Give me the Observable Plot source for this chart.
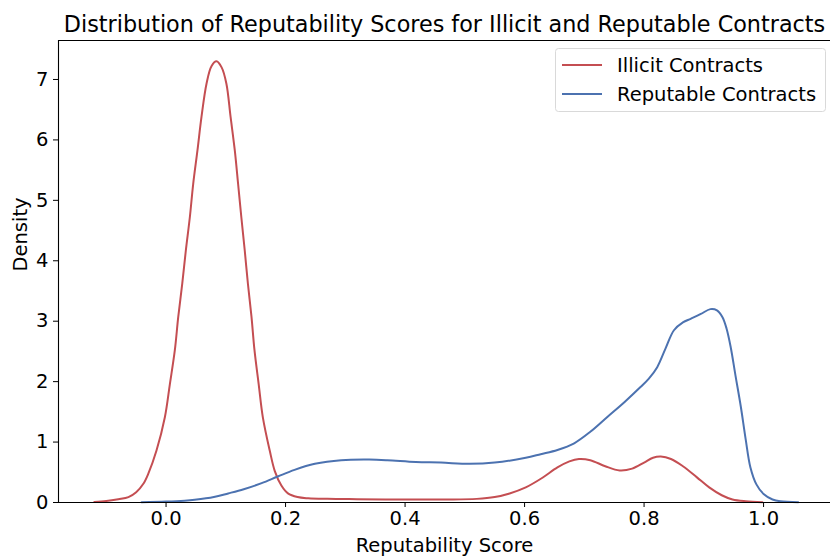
<!DOCTYPE html>
<html>
<head>
<meta charset="utf-8">
<script src="https://cdn.jsdelivr.net/npm/d3@7"></script>
<script src="https://cdn.jsdelivr.net/npm/@observablehq/plot@0.6"></script>
<style>
  html, body { margin: 0; padding: 0; background: #fff; }
  #chart { position: relative; width: 830px; height: 556px; }
</style>
</head>
<body>
<div id="chart"></div>
<script>
// Kernel density estimates of reputability score, sampled along the score axis
const illicitScore = [-0.12, -0.10, -0.08, -0.063, -0.05, -0.038, -0.030, -0.016, -0.002, 0.0064, 0.0147, 0.0204, 0.0271, 0.0331, 0.0398, 0.0454, 0.0526, 0.0593, 0.0677, 0.076, 0.0844, 0.093, 0.101, 0.108, 0.115, 0.1206, 0.126, 0.1317, 0.137, 0.143, 0.148, 0.155, 0.162, 0.1735, 0.182, 0.193, 0.204, 0.22, 0.238, 0.27, 0.32, 0.40, 0.47, 0.52, 0.55, 0.575, 0.602, 0.63, 0.655, 0.675, 0.691, 0.71, 0.735, 0.759, 0.78, 0.80, 0.815, 0.828, 0.845, 0.865, 0.888, 0.909, 0.93, 0.948, 0.97, 0.998];
const illicitDensity = [0.01, 0.025, 0.055, 0.09, 0.17, 0.31, 0.47, 0.86, 1.41, 1.96, 2.52, 3.07, 3.62, 4.17, 4.72, 5.27, 5.83, 6.38, 6.93, 7.22, 7.30, 7.2, 6.93, 6.38, 5.83, 5.27, 4.72, 4.17, 3.62, 3.07, 2.52, 1.96, 1.41, 0.86, 0.52, 0.28, 0.15, 0.09, 0.07, 0.06, 0.055, 0.05, 0.05, 0.06, 0.09, 0.15, 0.25, 0.41, 0.58, 0.68, 0.72, 0.7, 0.6, 0.53, 0.56, 0.66, 0.74, 0.76, 0.72, 0.6, 0.42, 0.25, 0.12, 0.05, 0.02, 0.005];

const reputableScore = [-0.041, 0.0, 0.031, 0.048, 0.08, 0.104, 0.13, 0.16, 0.187, 0.215, 0.249, 0.293, 0.34, 0.37, 0.418, 0.46, 0.508, 0.55, 0.602, 0.627, 0.655, 0.683, 0.71, 0.739, 0.767, 0.794, 0.808, 0.822, 0.836, 0.85, 0.865, 0.878, 0.895, 0.911, 0.922, 0.931, 0.938, 0.945, 0.953, 0.962, 0.97, 0.978, 0.988, 1.0, 1.015, 1.028, 1.058];
const reputableDensity = [0.005, 0.015, 0.03, 0.045, 0.09, 0.15, 0.22, 0.32, 0.43, 0.54, 0.64, 0.70, 0.71, 0.7, 0.67, 0.66, 0.64, 0.66, 0.74, 0.8, 0.87, 0.98, 1.17, 1.42, 1.66, 1.91, 2.05, 2.24, 2.55, 2.85, 2.98, 3.04, 3.12, 3.2, 3.18, 3.07, 2.88, 2.57, 2.1, 1.58, 1.05, 0.58, 0.3, 0.14, 0.05, 0.02, 0.005];

const seriesNames = ["Illicit Contracts", "Reputable Contracts"];
const seriesColors = ["#c44e52", "#4c72b0"];

const xTicks = [0.0, 0.2, 0.4, 0.6, 0.8, 1.0];
const yTicks = [0, 1, 2, 3, 4, 5, 6, 7];

const titleText = "Distribution of Reputability Scores for Illicit and Reputable Contracts";
const xLabel = "Reputability Score";
const yLabel = "Density";

const rows = [
  ...illicitScore.map((s, i) => ({series: seriesNames[0], score: s, density: illicitDensity[i]})),
  ...reputableScore.map((s, i) => ({series: seriesNames[1], score: s, density: reputableDensity[i]}))
];

const xDomain = [-0.18, 1.112];
const yDomain = [0, 7.645];
const fs = 19.5;

const chart = Plot.plot({
  width: 830,
  height: 556,
  marginTop: 40,
  marginLeft: 58,
  marginRight: 0,
  marginBottom: 54,
  style: {fontFamily: "'DejaVu Sans', sans-serif", fontSize: fs + "px", color: "#000", background: "#fff", overflow: "visible"},
  x: {domain: xDomain},
  y: {domain: yDomain},
  color: {domain: seriesNames, range: seriesColors},
  marks: [
    Plot.axisX({ticks: xTicks, tickFormat: d3.format(".1f"), tickSize: 5, tickPadding: 4, label: null, stroke: "#000", strokeOpacity: 1, fontSize: fs}),
    Plot.axisY({ticks: yTicks, tickFormat: d3.format("d"), tickSize: 5, tickPadding: 5, label: null, stroke: "#000", strokeOpacity: 1, fontSize: fs}),
    Plot.line(rows, {x: "score", y: "density", z: "series", stroke: "series", strokeWidth: 2, curve: "catmull-rom"}),
    Plot.ruleY([yDomain[0]], {stroke: "#000", strokeWidth: 1.1}),
    Plot.ruleY([yDomain[1]], {stroke: "#000", strokeWidth: 1.1}),
    Plot.ruleX([xDomain[0]], {stroke: "#000", strokeWidth: 1.1}),
    Plot.text([titleText], {frameAnchor: "top", dy: -24, fontSize: 22.3, fill: "#000"}),
    Plot.text([xLabel], {frameAnchor: "bottom", dy: 49, fontSize: fs, fill: "#000"}),
    Plot.text([yLabel], {frameAnchor: "left", dx: -38, rotate: -90, fontSize: fs, fill: "#000"})
  ]
});

// Legend box in the upper right of the axes
const svg = d3.select(chart);
const lg = svg.append("g").attr("transform", "translate(555,48)").attr("text-anchor", "start");
lg.append("rect").attr("x", 0.5).attr("y", 0.5).attr("width", 270).attr("height", 63).attr("rx", 3)
  .attr("fill", "#fff").attr("fill-opacity", 0.8).attr("stroke", "#d9d9d9");
seriesNames.forEach((name, i) => {
  const cy = 17 + i * 29;
  lg.append("line").attr("x1", 7).attr("x2", 47).attr("y1", cy).attr("y2", cy)
    .attr("stroke", seriesColors[i]).attr("stroke-width", 2);
  lg.append("text").attr("x", 62).attr("y", cy).attr("dy", "0.35em").attr("text-anchor", "start")
    .attr("font-size", fs).attr("fill", "#000").text(name);
});

document.getElementById("chart").appendChild(chart);
</script>
</body>
</html>
